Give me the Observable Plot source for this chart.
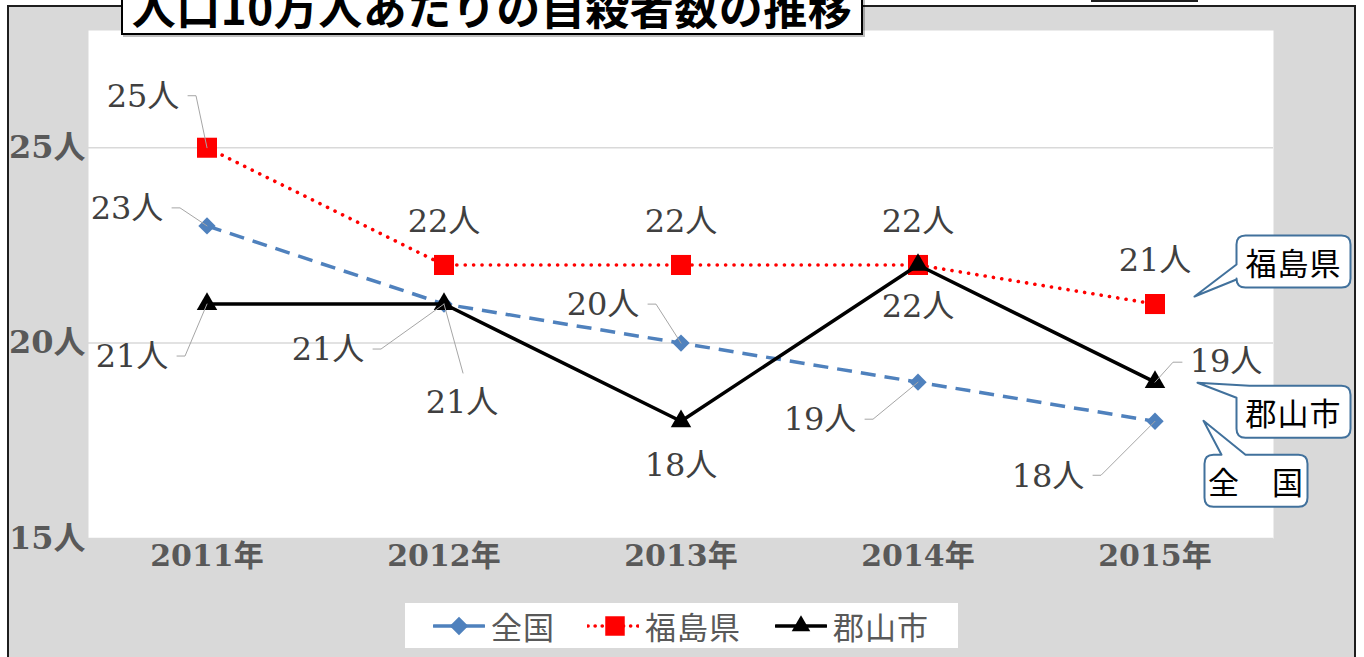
<!DOCTYPE html>
<html>
<head>
<meta charset="utf-8">
<script src="https://cdn.jsdelivr.net/npm/d3@7"></script>
<script src="https://cdn.jsdelivr.net/npm/@observablehq/plot@0.6"></script>
<style>
  html, body { margin: 0; padding: 0; }
  body { width: 1364px; height: 657px; overflow: hidden; background: #fff; position: relative;
         font-family: "Noto Sans CJK JP", "Noto Sans", sans-serif; }
  #frame { position: absolute; left: 7px; top: 5px; width: 1349px; height: 720px; box-sizing: border-box;
           background: #d9d9d9; border: 2px solid #1e1e1e; z-index: 0; }
  #chart { position: absolute; left: 0; top: 0; z-index: 1; }
  #title { position: absolute; left: 121px; top: -25px; width: 742px; height: 60px; box-sizing: border-box;
           background: #fff; border: 2px solid #000; z-index: 3; text-align: center;
           font-weight: 700; font-size: 44px; line-height: 58px; letter-spacing: 0.5px; color: #000;
           box-shadow: 2px 2px 0 rgba(0,0,0,0.25); white-space: nowrap; }
  #topbox { position: absolute; left: 1091px; top: -30px; width: 107px; height: 32px; box-sizing: border-box;
            border: 2px solid #1e1e1e; background: #fff; z-index: 3; }
  #legend { position: absolute; left: 405px; top: 603px; width: 553px; height: 45px; background: #fff; z-index: 3; }
  #legend .item { position: absolute; top: 0; height: 45px; display: flex; align-items: center; }
  #legend .lab { font-size: 31px; color: #595959; letter-spacing: 1px; line-height: 45px; margin-left: 6px; }
</style>
</head>
<body>
<div id="frame"></div>
<div id="topbox"></div>
<div id="title"></div>
<div id="chart"></div>
<div id="legend"></div>
<script>
// ---------------- data ----------------
const titleText = "人口10万人あたりの自殺者数の推移";
const years = [2011, 2012, 2013, 2014, 2015];
const seriesNames = ["全国", "福島県", "郡山市"];
const zenkoku = [23, 21, 20, 19, 18];
const fukushima = [25, 22, 22, 22, 21];
const koriyama = [21, 21, 18, 22, 19];
const yTicks = [15, 20, 25];
const unit = "人";
const yearSuffix = "年";
const calloutTexts = { "全国": "全\u3000国", "福島県": "福島県", "郡山市": "郡山市" };

// ---------------- styles / layout (not data) ----------------
const seriesStyle = {
  "全国":  { color: "#4f81bd", dash: "15,9", width: 3.5, cap: "butt", symbol: "diamond2", r: 7.8 },
  "福島県": { color: "#ff0000", dash: "0.1,8.3", width: 3.6, cap: "round", symbol: "square", r: 11.3 },
  "郡山市": { color: "#000000", dash: null, width: 3.5, cap: "butt", symbol: "triangle", r: 7.6 }
};
// label offset (px) from its point: [dx, dy, leaderType]
const labelLayout = {
  "全国":  [[-80, -17, "L"], [-116, 46, "L"], [-78, -38, "L"], [-98, 38, "L"], [-107, 55, "L"]],
  "福島県": [[-64, -51, "L"], [0, -43, null], [0, -43, null], [0, -43, null], [0, -43, null]],
  "郡山市": [[-75, 53, "L"], [18, 99, "T"], [0, 44, null], [0, 42, null], [71, -20, "R"]]
};
// callout geometry relative to the last point of each series (px)
const calloutLayout = {
  "福島県": { box: [82, -68, 196, -16], edge: "left", a: -39, b: -24, tip: [40, -7] },
  "郡山市": { box: [82, 4, 196, 56], edge: "corner", a: 13, b: 12, tip: [43, 1] },
  "全国":  { box: [50, 34, 153, 86], edge: "top", a: 67, b: 91, tip: [49, 0] }
};

const W = 1364, H = 657;
const margin = { top: 30, right: 91, bottom: 119, left: 88 };
const xDomain = [years[0] - 0.5, years[years.length - 1] + 0.5];
const yDomain = [15, 28];
const kx = (W - margin.left - margin.right) / (xDomain[1] - xDomain[0]);
const ky = (H - margin.top - margin.bottom) / (yDomain[1] - yDomain[0]);

const valuesBySeries = { "全国": zenkoku, "福島県": fukushima, "郡山市": koriyama };
const rows = seriesNames.flatMap(s => years.map((yr, j) => ({ series: s, year: yr, value: valuesBySeries[s][j] })));

const labels = rows.map(d => {
  const [dx, dy, leader] = labelLayout[d.series][years.indexOf(d.year)];
  return { ...d, text: d.value + unit, lx: d.year + dx / kx, ly: d.value - dy / ky, dx, dy, leader };
});
const leaders = labels.filter(d => d.leader).flatMap(d => {
  let pts;
  if (d.leader === "L") pts = [[d.dx + 45, d.dy - 1], [d.dx + 53, d.dy - 1], [0, 0]];
  else if (d.leader === "R") pts = [[d.dx - 44, d.dy], [d.dx - 53, d.dy], [0, 0]];
  else pts = [[d.dx + 1, d.dy - 30], [0, 0]];
  return pts.map(([px, py]) => ({ id: d.series + d.year, x: d.year + px / kx, y: d.value - py / ky }));
});

const serif = "'DejaVu Serif', 'Noto Sans CJK JP', serif";

const marks = [
  Plot.frame({ fill: "white", stroke: "none" }),
  Plot.gridY(yTicks, { stroke: "#d9d9d9", strokeOpacity: 1, strokeWidth: 1.5 }),
  Plot.axisY({ ticks: yTicks, tickFormat: d => d + unit, tickSize: 0, tickPadding: 3, fontSize: 32,
               fontWeight: "bold", fontFamily: serif, label: null }),
  Plot.axisX({ ticks: years, tickFormat: d => d + yearSuffix, tickSize: 0, tickPadding: 6, fontSize: 30,
               fontWeight: "bold", fontFamily: serif, label: null })
];
for (const s of seriesNames) {
  const st = seriesStyle[s];
  const data = rows.filter(d => d.series === s);
  marks.push(Plot.line(data, { x: "year", y: "value", stroke: st.color, strokeWidth: st.width,
    strokeDasharray: st.dash, strokeLinecap: st.cap, strokeLinejoin: "round" }));
  marks.push(Plot.dot(data, { x: "year", y: "value", symbol: () => st.symbol, r: st.r, fill: st.color, stroke: "none" }));
}
marks.push(Plot.line(leaders, { x: "x", y: "y", z: "id", stroke: "#a6a6a6", strokeWidth: 1, curve: "linear" }));
marks.push(Plot.text(labels, { x: "lx", y: "ly", text: "text", fontSize: 32, fontFamily: serif,
  fill: "#404040", textAnchor: "middle", lineAnchor: "middle" }));

const chart = Plot.plot({
  width: W, height: H,
  marginTop: margin.top, marginRight: margin.right, marginBottom: margin.bottom, marginLeft: margin.left,
  x: { type: "linear", domain: xDomain, label: null },
  y: { type: "linear", domain: yDomain, label: null },
  symbol: { type: "identity" },
  style: { background: "transparent", color: "#595959", overflow: "visible" },
  marks
});

// callouts attached to the last point of each series
const xs = chart.scale("x"), ys = chart.scale("y");
const g = d3.select(chart).append("g");
function calloutPath(x0, y0, x1, y1, r, edge, a, b, tx, ty) {
  let p = "";
  if (edge === "corner") p += `M${x0 + a},${y0}`; else p += `M${x0 + r},${y0}`;
  if (edge === "top") p += `L${a},${y0}L${tx},${ty}L${b},${y0}`;
  p += `L${x1 - r},${y0}Q${x1},${y0} ${x1},${y0 + r}`;
  p += `L${x1},${y1 - r}Q${x1},${y1} ${x1 - r},${y1}`;
  p += `L${x0 + r},${y1}Q${x0},${y1} ${x0},${y1 - r}`;
  if (edge === "left") p += `L${x0},${b}L${tx},${ty}L${x0},${a}`;
  if (edge === "corner") { p += `L${x0},${y0 + b}L${tx},${ty}Z`; return p; }
  p += `L${x0},${y0 + r}Q${x0},${y0} ${x0 + r},${y0}Z`;
  return p;
}
for (const s of seriesNames) {
  const vals = valuesBySeries[s];
  const px = xs.apply(years[years.length - 1]), py = ys.apply(vals[vals.length - 1]);
  const c = calloutLayout[s];
  const x0 = px + c.box[0], y0 = py + c.box[1], x1 = px + c.box[2], y1 = py + c.box[3];
  let a = c.a, b = c.b;
  if (c.edge === "left") { a = py + c.a; b = py + c.b; }
  if (c.edge === "top") { a = px + c.a; b = px + c.b; }
  g.append("path").attr("d", calloutPath(x0, y0, x1, y1, 9, c.edge, a, b, px + c.tip[0], py + c.tip[1]))
    .attr("fill", "#fff").attr("stroke", "#41719c").attr("stroke-width", 2).attr("stroke-linejoin", "round");
  g.append("text").attr("x", (x0 + x1) / 2).attr("y", (y0 + y1) / 2).attr("text-anchor", "middle")
    .attr("dominant-baseline", "central").attr("fill", "#000").attr("font-size", 31)
    .attr("letter-spacing", "1px")
    .attr("font-family", "'Noto Sans CJK JP', sans-serif").text(calloutTexts[s]);
}
document.getElementById("chart").appendChild(chart);
document.getElementById("title").textContent = titleText;

// legend
const legend = document.getElementById("legend");
const legendPos = { "全国": 28, "福島県": 182, "郡山市": 370 };
for (const s of seriesNames) {
  const st = seriesStyle[s];
  const item = document.createElement("div");
  item.className = "item";
  item.style.left = legendPos[s] + "px";
  const svg = d3.create("svg").attr("width", 52).attr("height", 45);
  svg.append("line").attr("x1", 1).attr("x2", 51).attr("y1", 23).attr("y2", 23).attr("stroke", st.color)
    .attr("stroke-width", st.width).attr("stroke-dasharray", s === "福島県" ? "0.1,7" : null)
    .attr("stroke-linecap", "round");
  const sym = { diamond2: d3.symbolDiamond2, square: d3.symbolSquare, triangle: d3.symbolTriangle }[st.symbol];
  const size = { diamond2: 220, square: 380, triangle: 150 }[st.symbol];
  svg.append("path").attr("d", d3.symbol(sym, size)()).attr("transform", `translate(${s === "福島県" ? 28 : 26},23)`).attr("fill", st.color);
  item.appendChild(svg.node());
  const lab = document.createElement("span");
  lab.className = "lab"; lab.textContent = s;
  item.appendChild(lab);
  legend.appendChild(item);
}
</script>
</body>
</html>
